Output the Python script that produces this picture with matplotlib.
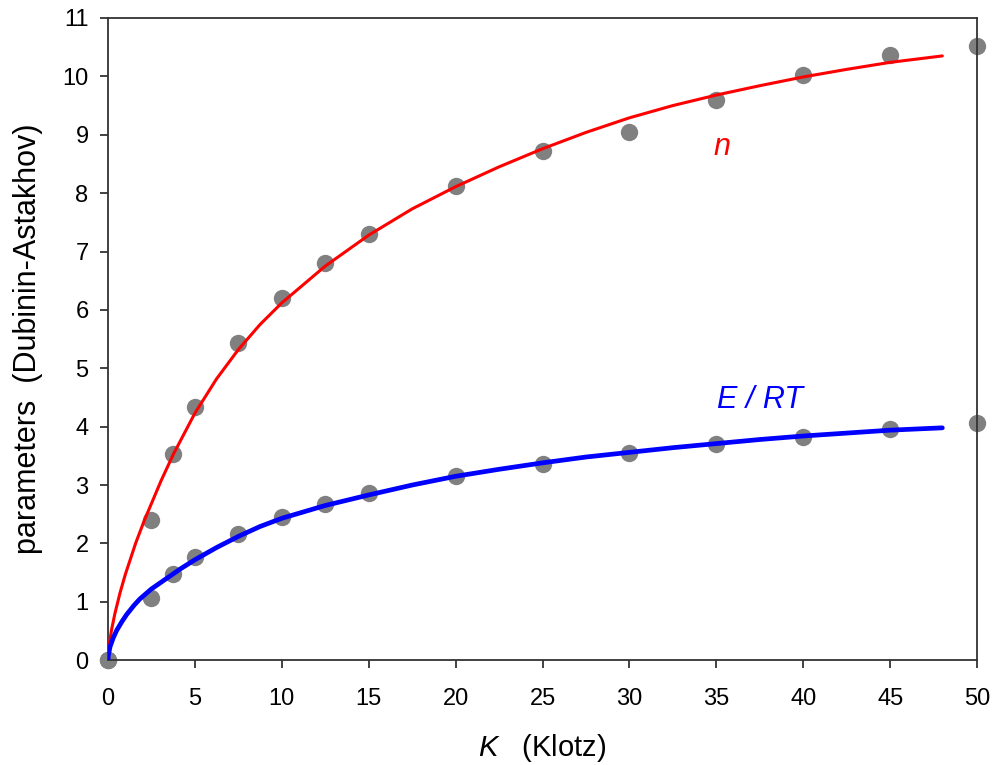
import matplotlib
matplotlib.use('Agg')
import matplotlib.pyplot as plt

# measured points (Klotz K vs Dubinin-Astakhov parameters)
k_pts = [0, 2.5, 3.75, 5, 7.5, 10, 12.5, 15, 20, 25, 30, 35, 40, 45, 50]
n_pts = [0, 2.40, 3.53, 4.33, 5.43, 6.20, 6.81, 7.30, 8.13, 8.72, 9.05, 9.60, 10.03, 10.37, 10.52]
e_pts = [0, 1.06, 1.47, 1.76, 2.17, 2.45, 2.67, 2.86, 3.15, 3.36, 3.55, 3.70, 3.83, 3.96, 4.06]

# fitted curves
k_n_fit = [0, 0.02, 0.1, 0.2, 0.4, 0.7, 1.0, 1.6, 2.1, 3.05, 3.75, 5, 6.25, 7.5, 8.75, 10,
           12.5, 15, 17.5, 20, 22.5, 25, 27.5, 30, 32.5, 35, 37.5, 40, 42.5, 45, 48]
n_fit = [0, 0.11, 0.32, 0.51, 0.80, 1.16, 1.47, 2.01, 2.40, 3.07, 3.52, 4.23, 4.82, 5.32, 5.75, 6.12,
         6.75, 7.28, 7.73, 8.11, 8.45, 8.76, 9.04, 9.29, 9.50, 9.68, 9.84, 9.99, 10.12, 10.24, 10.35]

k_e_fit = [0, 0.02, 0.12, 0.3, 0.5, 0.8, 1.07, 1.5, 1.84, 2.5, 3.37, 4.2, 5, 6.25, 7.5, 8.75, 10,
           12.5, 15, 17.5, 20, 22.5, 25, 27.5, 30, 32.5, 35, 37.5, 40, 42.5, 45, 48]
e_fit = [0, 0.08, 0.23, 0.38, 0.51, 0.66, 0.78, 0.94, 1.05, 1.22, 1.40, 1.57, 1.72, 1.93, 2.12, 2.29, 2.43,
         2.65, 2.83, 3.00, 3.15, 3.27, 3.38, 3.48, 3.56, 3.64, 3.71, 3.78, 3.84, 3.89, 3.94, 3.98]

xticks = list(range(0, 51, 5))
yticks = list(range(0, 12))

plain = ['Liberation Sans', 'DejaVu Sans']
plt.rcParams['font.family'] = plain
plt.rcParams['mathtext.fontset'] = 'custom'
plt.rcParams['mathtext.it'] = 'Liberation Sans:italic'
plt.rcParams['mathtext.rm'] = 'Liberation Sans'

fig = plt.figure(figsize=(9.95, 7.65), dpi=100)
ax = fig.add_axes([0.1085, 0.137, 0.8735, 0.8395])

ax.plot(k_n_fit, n_fit, color='#ff0000', lw=2.2, zorder=3, solid_capstyle='round')
ax.plot(k_e_fit, e_fit, color='#0000ff', lw=3.4, zorder=3, solid_capstyle='round')
ax.plot(k_pts, n_pts, 'o', color='#808080', ms=12.5, mec='none', zorder=2, clip_on=False)
ax.plot(k_pts, e_pts, 'o', color='#808080', ms=12.5, mec='none', zorder=2, clip_on=False)

ax.text(35.3, 8.79, 'n', color='#ff0000', fontsize=22, style='italic',
        ha='center', va='center')
ax.text(37.5, 4.45, 'E / RT', color='#0000ff', fontsize=22, style='italic',
        ha='center', va='center')

ax.set_xlim(0, 50)
ax.set_ylim(0, 11)
ax.set_xticks(xticks)
ax.set_yticks(yticks)
ax.set_xticklabels([str(t) for t in xticks], fontsize=17)
ax.set_yticklabels([str(t) for t in yticks], fontsize=17)
ax.tick_params(direction='out', length=6, width=1.2, color='#222222')
ax.tick_params(axis='y', pad=8)
ax.tick_params(axis='x', pad=14)
for s in ax.spines.values():
    s.set_linewidth(1.3)
    s.set_color('#333333')

ax.set_xlabel(r'$K$   (Klotz)', fontsize=21, labelpad=16)
ax.set_ylabel('parameters  (Dubinin-Astakhov)', fontsize=22, labelpad=14)

fig.savefig('out.png', dpi=100)
